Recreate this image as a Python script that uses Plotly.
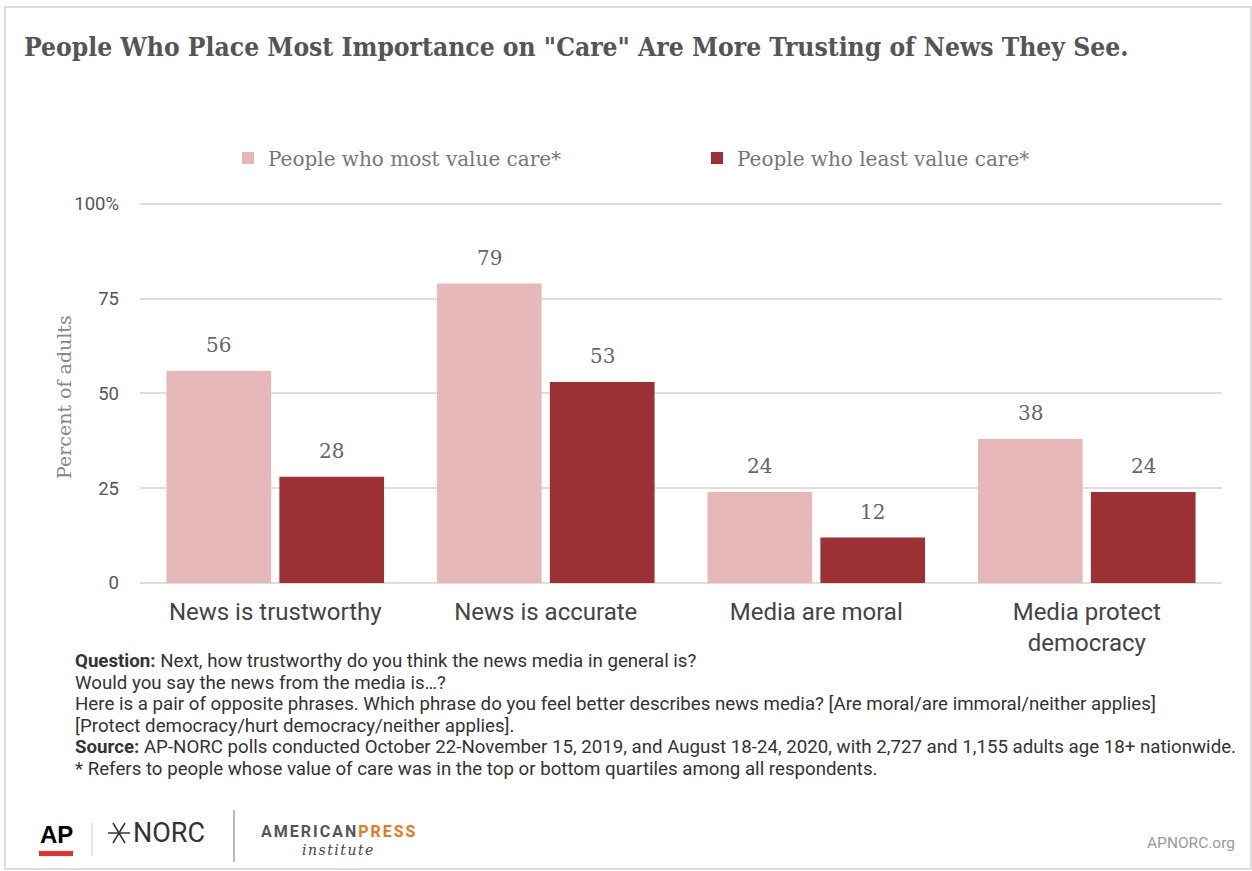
import plotly.graph_objects as go

# ---------------- data ----------------
categories = ["News is trustworthy", "News is accurate", "Media are moral", "Media protect<br>democracy"]
most_value_care = [56, 79, 24, 38]
least_value_care = [28, 53, 12, 24]
series_names = ["People who most value care*", "People who least value care*"]
y_tick_vals = [0, 25, 50, 75, 100]
y_tick_text = ["0", "25", "50", "75", "100%"]

title_text = 'People Who Place Most Importance on "Care" Are More Trusting of News They See.'
notes_lines = [
    "<b>Question:</b> Next, how trustworthy do you think the news media in general is?",
    "Would you say the news from the media is\u2026?",
    "Here is a pair of opposite phrases. Which phrase do you feel better describes news media? [Are moral/are immoral/neither applies]",
    "[Protect democracy/hurt democracy/neither applies].",
    "<b>Source:</b> AP-NORC polls conducted October 22-November 15, 2019, and August 18-24, 2020, with 2,727 and 1,155 adults age 18+ nationwide.",
    "* Refers to people whose value of care was in the top or bottom quartiles among all respondents.",
]

# ---------------- layout geometry ----------------
W, H = 1252, 871
ML, MR, MT, MB = 140, 30, 202, 288
PW, PH = W - ML - MR, H - MT - MB


def px(x):
    return (x - ML) / PW


def py(y):
    return (H - MB - y) / PH


PINK = "#E6B8B7"
DARK = "#9B3135"
SERIF = "DejaVu Serif, Liberation Serif, serif"
SANS = "Roboto, Liberation Sans, sans-serif"

BARGAP = 0.165
BARGROUPGAP = 0.073

fig = go.Figure()
fig.add_trace(go.Bar(x=list(range(len(categories))), y=most_value_care, name=series_names[0],
                     marker=dict(color=PINK, line=dict(width=0))))
fig.add_trace(go.Bar(x=list(range(len(categories))), y=least_value_care, name=series_names[1],
                     marker=dict(color=DARK, line=dict(width=0))))

annotations = []
# data labels positioned over each bar through the axis scale
offset = (1 - BARGAP) / 4
for vals, sign in ((most_value_care, -1), (least_value_care, 1)):
    for i, v in enumerate(vals):
        annotations.append(dict(x=i + sign * offset, y=v, xref="x", yref="y", text=str(v),
                                showarrow=False, yanchor="bottom", yshift=12,
                                font=dict(family=SERIF, size=20, color="#666666")))

# y-axis title
annotations.append(dict(x=px(64), y=py(397), xref="paper", yref="paper", text="Percent of adults",
                        showarrow=False, textangle=-90, xanchor="center", yanchor="middle",
                        font=dict(family=SERIF, size=19, color="#888888")))
# title
annotations.append(dict(x=px(22), y=py(47), xref="paper", yref="paper", text="<b>" + title_text + "</b>",
                        showarrow=False, xanchor="left", yanchor="middle",
                        font=dict(family="DejaVu Serif Condensed, DejaVu Serif, serif", size=26.2, color="#555555")))
# notes, one line each
note_y = [661, 682.5, 704, 725.5, 747, 769]
for line, yy in zip(notes_lines, note_y):
    annotations.append(dict(x=px(73), y=py(yy), xref="paper", yref="paper", text=line,
                            showarrow=False, xanchor="left", yanchor="middle", align="left",
                            font=dict(family=SANS, size=18.7, color="#333333")))
# footer logos (text)
annotations += [
    dict(x=px(38), y=py(834), xref="paper", yref="paper", text="<b>AP</b>", showarrow=False,
         xanchor="left", yanchor="middle", font=dict(family="Liberation Sans, Arial, sans-serif", size=24, color="#000000")),
    dict(x=px(131), y=py(833), xref="paper", yref="paper", text="NORC", showarrow=False,
         xanchor="left", yanchor="middle", font=dict(family=SANS, size=27, color="#333333")),
    dict(x=px(259), y=py(831), xref="paper", yref="paper",
         text="<span style='letter-spacing:2px'><b>AMERICAN<span style='color:#E87722'>PRESS</span></b></span>",
         showarrow=False, xanchor="left", yanchor="middle", font=dict(family=SANS, size=16, color="#555555")),
    dict(x=px(338), y=py(850), xref="paper", yref="paper",
         text="<i><span style='letter-spacing:1.5px'>institute</span></i>",
         showarrow=False, xanchor="center", yanchor="middle", font=dict(family=SERIF, size=14, color="#444444")),
    dict(x=px(1237), y=py(843), xref="paper", yref="paper", text="APNORC.org", showarrow=False,
         xanchor="right", yanchor="middle", font=dict(family=SANS, size=15.5, color="#999999")),
]

shapes = [
    # outer frame
    dict(type="rect", xref="paper", yref="paper", x0=px(5), x1=px(1251), y0=py(869), y1=py(7),
         line=dict(color="#DDDDDD", width=2), layer="below"),
    # AP red bar
    dict(type="rect", xref="paper", yref="paper", x0=px(39), x1=px(73), y0=py(856), y1=py(851),
         line=dict(width=0), fillcolor="#E8312F"),
    # separators
    dict(type="line", xref="paper", yref="paper", x0=px(92), x1=px(92), y0=py(823), y1=py(856),
         line=dict(color="#DDDDDD", width=1.5)),
    dict(type="line", xref="paper", yref="paper", x0=px(234), x1=px(234), y0=py(810), y1=py(862),
         line=dict(color="#BBBBBB", width=2)),
    # NORC star mark
    dict(type="line", xref="paper", yref="paper", x0=px(108), x1=px(130), y0=py(833), y1=py(833),
         line=dict(color="#333333", width=1.5)),
    dict(type="line", xref="paper", yref="paper", x0=px(113), x1=px(125), y0=py(823), y1=py(843),
         line=dict(color="#333333", width=1.5)),
    dict(type="line", xref="paper", yref="paper", x0=px(125), x1=px(113), y0=py(823), y1=py(843),
         line=dict(color="#333333", width=1.5)),
]

fig.update_layout(
    width=W, height=H,
    margin=dict(l=ML, r=MR, t=MT, b=MB, autoexpand=False),
    paper_bgcolor="white", plot_bgcolor="white",
    barmode="group", bargap=BARGAP, bargroupgap=BARGROUPGAP,
    showlegend=True,
    legend=dict(orientation="h", x=px(228), y=py(158), xanchor="left", yanchor="middle",
                entrywidth=424, itemwidth=30,
                font=dict(family=SERIF, size=20, color="#777777"), bgcolor="rgba(0,0,0,0)"),
    xaxis=dict(tickmode="array", tickvals=list(range(len(categories))), ticktext=categories,
               range=[-0.5, len(categories) - 0.5], showgrid=False, zeroline=False, showline=False,
               ticks="", ticklabelstandoff=12, tickfont=dict(family=SANS, size=24, color="#444444")),
    yaxis=dict(range=[0, 100.5], tickmode="array", tickvals=y_tick_vals, ticktext=y_tick_text,
               showgrid=True, gridcolor="#DEDEDE", gridwidth=2, zeroline=True, zerolinecolor="#DEDEDE",
               zerolinewidth=2, showline=False, ticks="", ticklabelstandoff=20,
               tickfont=dict(family=SANS, size=18.5, color="#555555")),
    annotations=annotations,
    shapes=shapes,
)

fig.write_html("out.html", config={"displayModeBar": False},
               post_script="document.body.style.margin='0';")
